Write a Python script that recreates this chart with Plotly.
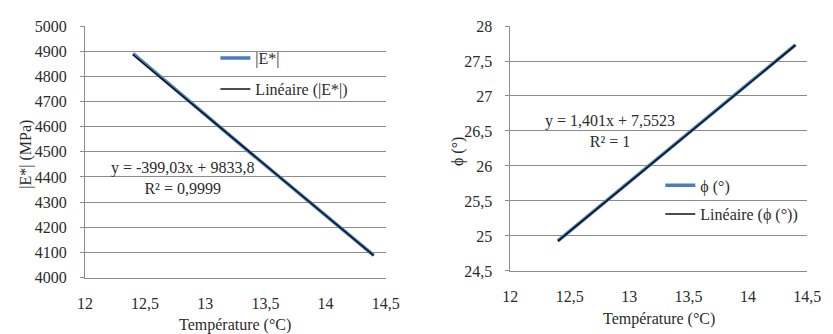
import plotly.graph_objects as go

# Measured data: temperature vs. complex modulus and phase angle
temperature = [12.4, 13.4, 14.4]
modulus_mpa = [4890, 4486, 4088]
phase_deg = [24.93, 26.33, 27.73]

# Linear trendline coefficients (as shown on the chart)
mod_slope, mod_intercept, mod_r2 = -399.03, 9833.8, "0,9999"
phi_slope, phi_intercept, phi_r2 = 1.401, 7.5523, "1"

# Axis ticks
x_ticks = [12, 12.5, 13, 13.5, 14, 14.5]
x_ticktext = ["12", "12,5", "13", "13,5", "14", "14,5"]
mod_ticks = [4000, 4100, 4200, 4300, 4400, 4500, 4600, 4700, 4800, 4900, 5000]
mod_ticktext = [str(v) for v in mod_ticks]
phi_ticks = [24.5, 25, 25.5, 26, 26.5, 27, 27.5, 28]
phi_ticktext = ["24,5", "25", "25,5", "26", "26,5", "27", "27,5", "28"]

FONT = "Liberation Serif"
FS = 16
TXT = "#2b2b2b"
GRID = "#8c8c8c"
SERIES = "#4A7EBB"
TREND = "#0d1117"

x_lo, x_hi = min(temperature), max(temperature)
trend_x = [x_lo, x_hi]
mod_trend = [mod_slope * t + mod_intercept for t in trend_x]
phi_trend = [phi_slope * t + phi_intercept for t in trend_x]

fig = go.Figure()

# Left chart: |E*|
fig.add_trace(go.Scatter(x=temperature, y=modulus_mpa, mode="lines", name="|E*|",
                         line=dict(color=SERIES, width=3.5), xaxis="x", yaxis="y",
                         legend="legend", legendgroup="a"))
fig.add_trace(go.Scatter(x=trend_x, y=mod_trend, mode="lines", name="Linéaire (|E*|)",
                         line=dict(color=TREND, width=1.5), xaxis="x", yaxis="y",
                         legend="legend", legendgroup="b"))

# Right chart: phase angle
fig.add_trace(go.Scatter(x=temperature, y=phase_deg, mode="lines", name="ϕ (°)",
                         line=dict(color=SERIES, width=3.5), xaxis="x2", yaxis="y2",
                         legend="legend2", legendgroup="c"))
fig.add_trace(go.Scatter(x=trend_x, y=phi_trend, mode="lines", name="Linéaire (ϕ (°))",
                         line=dict(color=TREND, width=1.5), xaxis="x2", yaxis="y2",
                         legend="legend2", legendgroup="d"))

W, H = 833, 334
L1, R1, T1, B1 = 79, 388, 19, 284
L2, R2, T2, B2 = 516, 821, 19, 277


def px(x):
    return x / W


def py(y):
    return (H - y) / H


axis_common = dict(showline=True, linecolor=GRID, linewidth=1, zeroline=False,
                   tickfont=dict(family=FONT, size=FS, color=TXT), fixedrange=True)

xaxis_common = dict(axis_common, range=[12, 14.5], tickvals=x_ticks, ticktext=x_ticktext,
                    showgrid=False, ticks="", ticklabelstandoff=11)
yaxis_common = dict(axis_common, showgrid=True, gridcolor=GRID, gridwidth=1,
                    ticks="outside", ticklen=4, tickcolor=GRID, ticklabelstandoff=10)

legend_common = dict(font=dict(family=FONT, size=FS, color=TXT), bgcolor="rgba(0,0,0,0)",
                     borderwidth=0, itemwidth=30, xanchor="left", yanchor="top")

fig.update_layout(
    width=W, height=H,
    margin=dict(l=0, r=0, t=0, b=0),
    paper_bgcolor="white", plot_bgcolor="white",
    font=dict(family=FONT, size=FS, color=TXT),
    xaxis=dict(xaxis_common, domain=[px(L1), px(R1)], anchor="y"),
    yaxis=dict(yaxis_common, domain=[py(B1), py(T1)], anchor="x",
               range=[4000, 5000], tickvals=mod_ticks, ticktext=mod_ticktext),
    xaxis2=dict(xaxis_common, domain=[px(L2), px(R2)], anchor="y2"),
    yaxis2=dict(yaxis_common, domain=[py(B2), py(T2)], anchor="x2",
                range=[24.5, 28], tickvals=phi_ticks, ticktext=phi_ticktext),
    legend=dict(legend_common, x=px(213), y=py(35), tracegroupgap=7),
    legend2=dict(legend_common, x=px(670), y=py(169), tracegroupgap=5),
    showlegend=True,
)

mod_eq = f"y = {mod_slope:.2f}x + {mod_intercept:.1f}".replace(".", ",")
phi_eq = f"y = {phi_slope:.3f}x + {phi_intercept:.4f}".replace(".", ",")

txt_font = dict(family=FONT, size=FS, color=TXT)
annotations = [
    # Trendline equations
    dict(x=12.81, y=4395, xref="x", yref="y", text=f"{mod_eq}<br>R² = {mod_r2}",
         showarrow=False, font=txt_font, align="center", xanchor="center", yanchor="middle"),
    dict(x=12.84, y=26.5, xref="x2", yref="y2", text=f"{phi_eq}<br>R² = {phi_r2}",
         showarrow=False, font=txt_font, align="center", xanchor="center", yanchor="middle"),
    # Axis titles
    dict(x=px((L1 + R1) / 2), y=py(334), xref="paper", yref="paper", text="Température (°C)",
         showarrow=False, font=txt_font, xanchor="center", yanchor="middle"),
    dict(x=px((L2 + R2) / 2), y=py(328), xref="paper", yref="paper", text="Température (°C)",
         showarrow=False, font=txt_font, xanchor="center", yanchor="middle"),
    dict(x=px(19), y=py(154), xref="paper", yref="paper", text="|E*| (MPa)", textangle=-90,
         showarrow=False, font=txt_font, xanchor="center", yanchor="middle"),
    dict(x=px(463), y=py(151), xref="paper", yref="paper", text="ϕ (°)", textangle=-90,
         showarrow=False, font=txt_font, xanchor="center", yanchor="middle"),
]
fig.update_layout(annotations=annotations)

fig.write_html("out.html", config=dict(displayModeBar=False))
